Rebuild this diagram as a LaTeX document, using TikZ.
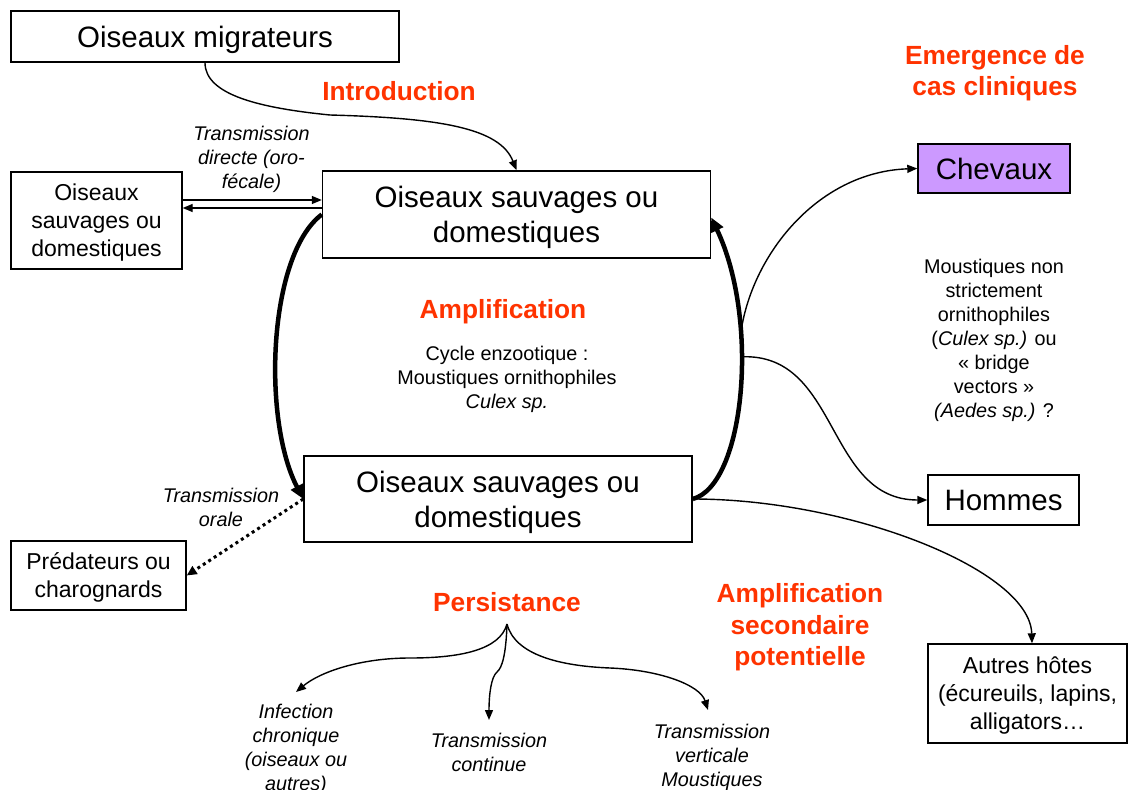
\documentclass[tikz,border=0pt]{standalone}
\usepackage{fontspec}
\setmainfont{Liberation Sans}
\usetikzlibrary{arrows.meta}
\definecolor{hl}{RGB}{255,51,0}
\definecolor{purp}{RGB}{204,153,255}
\begin{document}
\begin{tikzpicture}[x=1pt,y=-1pt,
  box/.style={draw, line width=1.4pt, inner sep=0pt, align=center, text depth=-2.5pt},
  bigtxt/.style={font=\fontsize{29.5}{35}\selectfont},
  midtxt/.style={font=\fontsize{23}{28}\selectfont},
  lbl/.style={font=\fontsize{19.8}{24}\selectfont, align=center, inner sep=0pt},
  itl/.style={font=\fontsize{19.8}{24}\selectfont\itshape, align=center, inner sep=0pt},
  head/.style={font=\fontsize{26.3}{31.6}\selectfont\bfseries, text=hl, align=center, inner sep=0pt},
  arr/.style={line width=1.4pt, -{Triangle[length=10pt,width=8pt]}},
  fatarr/.style={line width=4.5pt, -{Triangle[length=14pt,width=13pt]}},
  dotarr/.style={line width=3pt, dash pattern=on 3pt off 3.5pt, -{Triangle[length=10pt,width=9pt]}},
]
\useasboundingbox (0,0) rectangle (1128,790);

% boxes
\node[box, bigtxt, minimum width=388pt, minimum height=51pt] (mig) at (205,36.5) {Oiseaux migrateurs};
\node[box, midtxt, minimum width=171pt, minimum height=97pt] (left) at (96.5,220.5) {Oiseaux\\sauvages ou\\domestiques};
\node[box, bigtxt, minimum width=388pt, minimum height=87pt] (top) at (516.5,214.5) {Oiseaux sauvages ou\\domestiques};
\node[box, bigtxt, minimum width=388pt, minimum height=86pt] (bot) at (498,499) {Oiseaux sauvages ou\\domestiques};
\node[box, bigtxt, fill=purp, minimum width=152pt, minimum height=49pt] (chev) at (994,168.5) {Chevaux};
\node[box, bigtxt, minimum width=151pt, minimum height=50pt] (hom) at (1003.5,500) {Hommes};
\node[box, midtxt, minimum width=199pt, minimum height=99pt] (autres) at (1027.5,693.5) {Autres hôtes\\(écureuils, lapins,\\alligators…};
\node[box, midtxt, minimum width=175pt, minimum height=69pt] (pred) at (98.5,575.5) {Prédateurs ou\\charognards};

% labels
\node[head] (intro) at (399,91.5) {Introduction};
\node[head] (emer) at (995,73) {Emergence de\\cas cliniques};
\node[head] (ampl) at (503,311.5) {Amplification};
\node[lbl] (cycle) at (507,379) {Cycle enzootique :\\Moustiques ornithophiles\\\textit{Culex sp.}};
\node[itl] (tdir) at (251.5,159.5) {Transmission\\directe (oro-\\fécale)};
\node[itl] (tor) at (221,507) {Transmission\\orale};
\node[lbl] (mnon) at (994,340.5) {Moustiques non\\strictement\\ornithophiles\\(\textit{Culex sp.)} ou\\« bridge\\vectors »\\\textit{(Aedes sp.)} ?};
\node[head] (pers) at (507,602.5) {Persistance};
\node[head] (amp2) at (800,627.5) {Amplification\\secondaire\\potentielle};
\node[itl] (inf) at (296,749) {Infection\\chronique\\(oiseaux ou\\autres)};
\node[itl] (tcont) at (489,752.5) {Transmission\\continue};
\node[itl] (tvert) at (712,757) {Transmission\\verticale\\Moustiques};

% coordinates for free ends
\coordinate (apex) at (507,624);
\coordinate (tip1) at (296,692);
\coordinate (tip2) at (489,720);
\coordinate (tip3) at (708,710);

% introduction
\draw[arr] (mig.south) .. controls (205,95) and (260,108) .. (330,115)
  .. controls (440,118) and (500,128) .. (top.north);

% direct transmission
\draw[arr] ([yshift=20.5pt]left.east) -- ([yshift=14.5pt]top.west);
\draw[arr] ([yshift=6.5pt]top.west) -- ([yshift=12.5pt]left.east);

% amplification cycle
\draw[fatarr] (top.west) .. controls (268,255) and (262,420) .. (bot.west);
\draw[fatarr] (bot.east) .. controls (745,485) and (760,320) .. ([yshift=-3pt]top.east)
  coordinate[pos=0.65] (br1) coordinate[pos=0.6] (br2);

% bridge vectors
\draw[arr] (br1) .. controls (748,260) and (815,172) .. (chev.west);
\draw[arr] (br2) .. controls (840,352) and (825,500) .. (hom.west);
\draw[arr] (bot.east) .. controls (850,499) and (1030,570) .. ([xshift=4.5pt]autres.north);

% oral transmission
\draw[dotarr] (bot.west) -- (pred.east);

% persistance
\draw[arr] (apex) .. controls (500,650) and (460,658) .. (410,658)
  .. controls (360,658) and (320,672) .. (tip1);
\draw[arr] (apex) .. controls (506,655) and (502,668) .. (497,672)
  .. controls (491,677) and (489,695) .. (tip2);
\draw[arr] (apex) .. controls (515,655) and (560,666) .. (610,668)
  .. controls (660,670) and (700,685) .. (tip3);
\end{tikzpicture}
\end{document}
